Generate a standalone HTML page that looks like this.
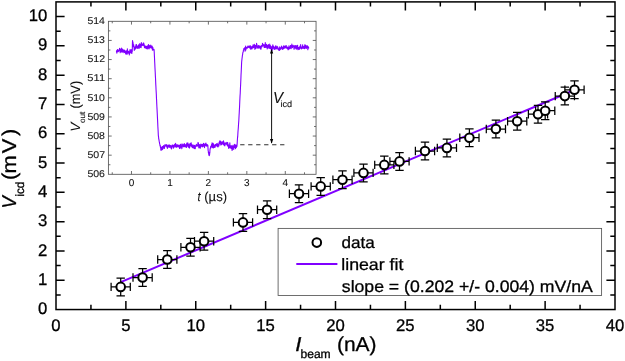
<!DOCTYPE html>
<html><head><meta charset="utf-8"><title>plot</title>
<style>html,body{margin:0;padding:0;background:#fff}svg{display:block;font-family:"Liberation Sans",sans-serif}text{stroke:#000;stroke-width:.3px}.in text{stroke-width:.08px;fill:#111}</style></head>
<body>
<svg width="625" height="361" viewBox="0 0 625 361" font-family="Liberation Sans, sans-serif" fill="#000" text-rendering="geometricPrecision">
<rect width="625" height="361" fill="#fff"/>
<rect x="56.0" y="1.9" width="559.0" height="307.65000000000003" fill="none" stroke="#000" stroke-width="1.5"/>
<path d="M90.94 309.55v-4.7M90.94 1.9v4.7M125.88 309.55v-8.6M125.88 1.9v8.6M160.81 309.55v-4.7M160.81 1.9v4.7M195.75 309.55v-8.6M195.75 1.9v8.6M230.69 309.55v-4.7M230.69 1.9v4.7M265.62 309.55v-8.6M265.62 1.9v8.6M300.56 309.55v-4.7M300.56 1.9v4.7M335.50 309.55v-8.6M335.50 1.9v8.6M370.44 309.55v-4.7M370.44 1.9v4.7M405.38 309.55v-8.6M405.38 1.9v8.6M440.31 309.55v-4.7M440.31 1.9v4.7M475.25 309.55v-8.6M475.25 1.9v8.6M510.19 309.55v-4.7M510.19 1.9v4.7M545.12 309.55v-8.6M545.12 1.9v8.6M580.06 309.55v-4.7M580.06 1.9v4.7M56.0 294.90h4.7M615.0 294.90h-4.7M56.0 280.25h8.6M615.0 280.25h-8.6M56.0 265.60h4.7M615.0 265.60h-4.7M56.0 250.95h8.6M615.0 250.95h-8.6M56.0 236.30h4.7M615.0 236.30h-4.7M56.0 221.65h8.6M615.0 221.65h-8.6M56.0 207.00h4.7M615.0 207.00h-4.7M56.0 192.35h8.6M615.0 192.35h-8.6M56.0 177.70h4.7M615.0 177.70h-4.7M56.0 163.05h8.6M615.0 163.05h-8.6M56.0 148.40h4.7M615.0 148.40h-4.7M56.0 133.75h8.6M615.0 133.75h-8.6M56.0 119.10h4.7M615.0 119.10h-4.7M56.0 104.45h8.6M615.0 104.45h-8.6M56.0 89.80h4.7M615.0 89.80h-4.7M56.0 75.15h8.6M615.0 75.15h-8.6M56.0 60.50h4.7M615.0 60.50h-4.7M56.0 45.85h8.6M615.0 45.85h-8.6M56.0 31.20h4.7M615.0 31.20h-4.7M56.0 16.55h8.6M615.0 16.55h-8.6" stroke="#000" stroke-width="1.5" fill="none"/>
<text x="47.3" y="314.15" font-size="16.7" text-anchor="end">0</text>
<text x="47.3" y="284.85" font-size="16.7" text-anchor="end">1</text>
<text x="47.3" y="255.55" font-size="16.7" text-anchor="end">2</text>
<text x="47.3" y="226.25" font-size="16.7" text-anchor="end">3</text>
<text x="47.3" y="196.95" font-size="16.7" text-anchor="end">4</text>
<text x="47.3" y="167.65" font-size="16.7" text-anchor="end">5</text>
<text x="47.3" y="138.35" font-size="16.7" text-anchor="end">6</text>
<text x="47.3" y="109.05" font-size="16.7" text-anchor="end">7</text>
<text x="47.3" y="79.75" font-size="16.7" text-anchor="end">8</text>
<text x="47.3" y="50.45" font-size="16.7" text-anchor="end">9</text>
<text x="47.3" y="21.15" font-size="16.7" text-anchor="end">10</text>
<text x="56.00" y="331.25" font-size="16.7" text-anchor="middle">0</text>
<text x="125.88" y="331.25" font-size="16.7" text-anchor="middle">5</text>
<text x="195.75" y="331.25" font-size="16.7" text-anchor="middle">10</text>
<text x="265.62" y="331.25" font-size="16.7" text-anchor="middle">15</text>
<text x="335.50" y="331.25" font-size="16.7" text-anchor="middle">20</text>
<text x="405.38" y="331.25" font-size="16.7" text-anchor="middle">25</text>
<text x="475.25" y="331.25" font-size="16.7" text-anchor="middle">30</text>
<text x="545.12" y="331.25" font-size="16.7" text-anchor="middle">35</text>
<text x="615.00" y="331.25" font-size="16.7" text-anchor="middle">40</text>
<text transform="translate(16.0,208.56) rotate(-90) scale(0.9167,1)" font-size="20" font-style="italic">V</text>
<text transform="translate(24.0,196.55) rotate(-90) scale(0.9638,1)" font-size="12">icd</text>
<text transform="translate(16.0,178.5) rotate(-90) scale(1.0909,1)" font-size="20" x="-1.45 4.60 23.19 39.03">(mV)</text>
<text transform="translate(295.37,350.8) scale(1.1087,1)" font-size="20" font-style="italic">I</text>
<text transform="translate(300.44,358.3) scale(1.0081,1)" font-size="12">beam</text>
<text transform="translate(336.94,350.75) scale(1.0481,1)" font-size="20">(nA)</text>
<line x1="120.7" y1="282.15" x2="574.5" y2="89.96" stroke="#8000ff" stroke-width="2"/>
<path d="M111.10 286.90h19.20M111.10 282.70v8.4M130.30 282.70v8.4M120.70 278.04v17.72M116.50 278.04h8.4M116.50 295.76h8.4M133.00 277.50h19.20M133.00 273.30v8.4M152.20 273.30v8.4M142.60 268.64v17.72M138.40 268.64h8.4M138.40 286.36h8.4M157.70 259.50h19.20M157.70 255.30v8.4M176.90 255.30v8.4M167.30 250.64v17.72M163.10 250.64h8.4M163.10 268.36h8.4M180.90 247.30h19.20M180.90 243.10v8.4M200.10 243.10v8.4M190.50 238.44v17.72M186.30 238.44h8.4M186.30 256.16h8.4M194.50 241.20h19.20M194.50 237.00v8.4M213.70 237.00v8.4M204.10 232.34v17.72M199.90 232.34h8.4M199.90 250.06h8.4M233.40 222.40h19.20M233.40 218.20v8.4M252.60 218.20v8.4M243.00 213.54v17.72M238.80 213.54h8.4M238.80 231.26h8.4M257.50 209.70h19.20M257.50 205.50v8.4M276.70 205.50v8.4M267.10 200.84v17.72M262.90 200.84h8.4M262.90 218.56h8.4M289.40 193.70h19.20M289.40 189.50v8.4M308.60 189.50v8.4M299.00 184.84v17.72M294.80 184.84h8.4M294.80 202.56h8.4M311.10 186.40h19.20M311.10 182.20v8.4M330.30 182.20v8.4M320.70 177.54v17.72M316.50 177.54h8.4M316.50 195.26h8.4M332.90 179.70h19.20M332.90 175.50v8.4M352.10 175.50v8.4M342.50 170.84v17.72M338.30 170.84h8.4M338.30 188.56h8.4M353.90 172.90h19.20M353.90 168.70v8.4M373.10 168.70v8.4M363.50 164.04v17.72M359.30 164.04h8.4M359.30 181.76h8.4M374.70 164.90h19.20M374.70 160.70v8.4M393.90 160.70v8.4M384.30 156.04v17.72M380.10 156.04h8.4M380.10 173.76h8.4M389.90 161.40h19.20M389.90 157.20v8.4M409.10 157.20v8.4M399.50 152.54v17.72M395.30 152.54h8.4M395.30 170.26h8.4M415.40 151.00h19.20M415.40 146.80v8.4M434.60 146.80v8.4M425.00 142.14v17.72M420.80 142.14h8.4M420.80 159.86h8.4M437.30 147.90h19.20M437.30 143.70v8.4M456.50 143.70v8.4M446.90 139.04v17.72M442.70 139.04h8.4M442.70 156.76h8.4M459.80 137.70h19.20M459.80 133.50v8.4M479.00 133.50v8.4M469.40 128.84v17.72M465.20 128.84h8.4M465.20 146.56h8.4M486.30 129.00h19.20M486.30 124.80v8.4M505.50 124.80v8.4M495.90 120.14v17.72M491.70 120.14h8.4M491.70 137.86h8.4M507.60 121.20h19.20M507.60 117.00v8.4M526.80 117.00v8.4M517.20 112.34v17.72M513.00 112.34h8.4M513.00 130.06h8.4M528.40 114.20h19.20M528.40 110.00v8.4M547.60 110.00v8.4M538.00 105.34v17.72M533.80 105.34h8.4M533.80 123.06h8.4M535.60 110.70h19.20M535.60 106.50v8.4M554.80 106.50v8.4M545.20 101.84v17.72M541.00 101.84h8.4M541.00 119.56h8.4M555.25 96.10h19.20M555.25 91.90v8.4M574.45 91.90v8.4M564.85 87.24v17.72M560.65 87.24h8.4M560.65 104.96h8.4M564.90 89.80h19.20M564.90 85.60v8.4M584.10 85.60v8.4M574.50 80.94v17.72M570.30 80.94h8.4M570.30 98.66h8.4" stroke="#000" stroke-width="1.25" fill="none"/>
<circle cx="120.70" cy="286.90" r="4.3" fill="#fff" stroke="#000" stroke-width="2"/>
<circle cx="142.60" cy="277.50" r="4.3" fill="#fff" stroke="#000" stroke-width="2"/>
<circle cx="167.30" cy="259.50" r="4.3" fill="#fff" stroke="#000" stroke-width="2"/>
<circle cx="190.50" cy="247.30" r="4.3" fill="#fff" stroke="#000" stroke-width="2"/>
<circle cx="204.10" cy="241.20" r="4.3" fill="#fff" stroke="#000" stroke-width="2"/>
<circle cx="243.00" cy="222.40" r="4.3" fill="#fff" stroke="#000" stroke-width="2"/>
<circle cx="267.10" cy="209.70" r="4.3" fill="#fff" stroke="#000" stroke-width="2"/>
<circle cx="299.00" cy="193.70" r="4.3" fill="#fff" stroke="#000" stroke-width="2"/>
<circle cx="320.70" cy="186.40" r="4.3" fill="#fff" stroke="#000" stroke-width="2"/>
<circle cx="342.50" cy="179.70" r="4.3" fill="#fff" stroke="#000" stroke-width="2"/>
<circle cx="363.50" cy="172.90" r="4.3" fill="#fff" stroke="#000" stroke-width="2"/>
<circle cx="384.30" cy="164.90" r="4.3" fill="#fff" stroke="#000" stroke-width="2"/>
<circle cx="399.50" cy="161.40" r="4.3" fill="#fff" stroke="#000" stroke-width="2"/>
<circle cx="425.00" cy="151.00" r="4.3" fill="#fff" stroke="#000" stroke-width="2"/>
<circle cx="446.90" cy="147.90" r="4.3" fill="#fff" stroke="#000" stroke-width="2"/>
<circle cx="469.40" cy="137.70" r="4.3" fill="#fff" stroke="#000" stroke-width="2"/>
<circle cx="495.90" cy="129.00" r="4.3" fill="#fff" stroke="#000" stroke-width="2"/>
<circle cx="517.20" cy="121.20" r="4.3" fill="#fff" stroke="#000" stroke-width="2"/>
<circle cx="538.00" cy="114.20" r="4.3" fill="#fff" stroke="#000" stroke-width="2"/>
<circle cx="545.20" cy="110.70" r="4.3" fill="#fff" stroke="#000" stroke-width="2"/>
<circle cx="564.85" cy="96.10" r="4.3" fill="#fff" stroke="#000" stroke-width="2"/>
<circle cx="574.50" cy="89.80" r="4.3" fill="#fff" stroke="#000" stroke-width="2"/>
<rect x="278.1" y="228.4" width="323.5" height="67.1" fill="#fff" stroke="#555" stroke-width="0.85"/>
<circle cx="316.8" cy="242.6" r="4.3" fill="#fff" stroke="#000" stroke-width="2"/>
<line x1="296.3" y1="264.1" x2="337.4" y2="264.1" stroke="#8000ff" stroke-width="2"/>
<text transform="translate(341.52,248.3) scale(1.0342,1)" font-size="16.5">data</text>
<text transform="translate(341.25,270.0) scale(1.0753,1)" font-size="16.5">linear fit</text>
<text transform="translate(341.82,291.5) scale(1.0687,1)" font-size="16.5">slope = (0.202 +/- 0.004) mV/nA</text>
<rect x="108.4" y="21.3" width="207.65" height="153.0" fill="#fff" stroke="#555" stroke-width="0.85"/>
<path d="M112.25 174.3v-2.0M112.25 21.3v2.0M131.47 174.3v-3.3M131.47 21.3v3.3M150.70 174.3v-2.0M150.70 21.3v2.0M169.93 174.3v-3.3M169.93 21.3v3.3M189.15 174.3v-2.0M189.15 21.3v2.0M208.38 174.3v-3.3M208.38 21.3v3.3M227.61 174.3v-2.0M227.61 21.3v2.0M246.83 174.3v-3.3M246.83 21.3v3.3M266.06 174.3v-2.0M266.06 21.3v2.0M285.29 174.3v-3.3M285.29 21.3v3.3M304.51 174.3v-2.0M304.51 21.3v2.0M108.4 164.74h2.0M316.05 164.74h-2.0M108.4 155.18h3.3M316.05 155.18h-3.3M108.4 145.61h2.0M316.05 145.61h-2.0M108.4 136.05h3.3M316.05 136.05h-3.3M108.4 126.49h2.0M316.05 126.49h-2.0M108.4 116.93h3.3M316.05 116.93h-3.3M108.4 107.36h2.0M316.05 107.36h-2.0M108.4 97.80h3.3M316.05 97.80h-3.3M108.4 88.24h2.0M316.05 88.24h-2.0M108.4 78.68h3.3M316.05 78.68h-3.3M108.4 69.11h2.0M316.05 69.11h-2.0M108.4 59.55h3.3M316.05 59.55h-3.3M108.4 49.99h2.0M316.05 49.99h-2.0M108.4 40.43h3.3M316.05 40.43h-3.3M108.4 30.86h2.0M316.05 30.86h-2.0" stroke="#555" stroke-width="0.85" fill="none"/>
<g class="in">
<text transform="translate(87.38,177.0) scale(1.0751,1)" font-size="9.8">506</text>
<text transform="translate(87.38,157.88) scale(1.0785,1)" font-size="9.8">507</text>
<text transform="translate(87.38,138.75) scale(1.0734,1)" font-size="9.8">508</text>
<text transform="translate(87.38,119.63) scale(1.0768,1)" font-size="9.8">509</text>
<text transform="translate(87.38,100.5) scale(1.0717,1)" font-size="9.8">510</text>
<text transform="translate(87.36,81.38) scale(1.1323,1)" font-size="9.8">511</text>
<text transform="translate(87.38,62.25) scale(1.0785,1)" font-size="9.8">512</text>
<text transform="translate(87.38,43.13) scale(1.0751,1)" font-size="9.8">513</text>
<text transform="translate(87.38,24.0) scale(1.0651,1)" font-size="9.8">514</text>
<text x="131.47" y="186.2" font-size="10" text-anchor="middle">0</text>
<text x="169.93" y="186.2" font-size="10" text-anchor="middle">1</text>
<text x="208.38" y="186.2" font-size="10" text-anchor="middle">2</text>
<text x="246.83" y="186.2" font-size="10" text-anchor="middle">3</text>
<text x="285.29" y="186.2" font-size="10" text-anchor="middle">4</text>
<text transform="translate(79.5,131.67) rotate(-90) scale(1.0289,1)" font-size="13.4" font-style="italic">V</text>
<text transform="translate(84.7,123.03) rotate(-90) scale(1.0223,1)" font-size="8">out</text>
<text transform="translate(79.5,108.57) rotate(-90) scale(0.9561,1)" font-size="13.4">(mV)</text>
<text transform="translate(197.40,200.5) scale(0.8496,1)" font-size="13.2" font-style="italic">t</text>
<text transform="translate(204.21,200.5) scale(0.9945,1)" font-size="13.2">(µs)</text>
</g>
<path d="M116.30 51.82 116.44 51.61 116.58 50.69 116.72 52.69 116.86 53.17 117.00 52.56 117.14 50.20 117.28 51.85 117.42 49.47 117.56 49.59 117.70 50.91 117.84 51.36 117.98 51.33 118.12 50.51 118.26 51.66 118.40 50.41 118.54 50.28 118.68 51.30 118.82 50.14 118.96 49.95 119.10 49.56 119.24 50.51 119.38 50.75 119.52 48.42 119.66 49.69 119.80 50.80 119.94 49.16 120.08 51.17 120.22 52.64 120.36 51.35 120.50 51.49 120.64 50.17 120.78 49.21 120.92 51.08 121.06 48.85 121.20 51.53 121.34 48.16 121.48 49.72 121.62 48.87 121.76 51.09 121.90 50.95 122.04 52.52 122.18 51.88 122.32 49.62 122.46 51.73 122.60 48.97 122.74 50.91 122.88 50.70 123.02 49.65 123.16 51.24 123.30 51.59 123.44 51.64 123.58 50.61 123.72 52.18 123.86 50.70 124.00 52.66 124.14 50.09 124.28 50.60 124.42 52.26 124.56 52.40 124.70 50.41 124.84 52.04 124.98 51.64 125.12 51.46 125.26 51.10 125.40 51.83 125.54 52.41 125.68 54.01 125.82 51.75 125.96 51.76 126.10 51.45 126.24 53.24 126.38 50.78 126.52 51.79 126.66 51.34 126.80 51.88 126.94 54.56 127.08 52.07 127.22 51.72 127.36 48.82 127.50 51.90 127.64 51.97 127.78 53.29 127.92 50.73 128.06 51.61 128.20 52.82 128.34 53.05 128.48 52.47 128.62 52.09 128.76 51.58 128.90 52.48 129.04 52.07 129.18 53.02 129.32 54.94 129.46 53.52 129.60 52.38 129.74 52.21 129.88 49.87 130.02 51.42 130.16 49.85 130.30 52.16 130.44 52.84 130.58 51.27 130.72 52.06 130.86 50.68 131.00 52.18 131.14 49.65 131.28 50.72 131.42 51.68 131.56 52.92 131.70 53.24 131.84 53.52 131.98 51.38 132.12 51.60 132.26 51.39 132.40 43.83 132.54 40.47 132.68 41.94 132.82 41.80 132.96 42.37 133.10 43.53 133.24 46.58 133.38 45.91 133.52 44.72 133.66 44.58 133.80 45.48 133.94 47.10 134.08 47.41 134.22 50.34 134.36 50.24 134.50 49.31 134.64 48.69 134.78 47.02 134.92 49.53 135.06 49.19 135.20 48.87 135.34 46.73 135.48 48.66 135.62 47.04 135.76 45.81 135.90 45.84 136.04 44.52 136.18 45.53 136.32 47.35 136.46 44.43 136.60 46.25 136.74 47.48 136.88 47.69 137.02 48.54 137.16 47.31 137.30 47.79 137.44 46.39 137.58 48.06 137.72 47.50 137.86 45.72 138.00 48.15 138.14 47.54 138.28 45.60 138.42 46.43 138.56 46.15 138.70 44.86 138.84 46.54 138.98 44.88 139.12 48.51 139.26 46.73 139.40 46.43 139.54 47.53 139.68 45.99 139.82 43.60 139.96 45.13 140.10 47.06 140.24 44.34 140.38 45.42 140.52 44.74 140.66 47.54 140.80 44.35 140.94 46.83 141.08 47.77 141.22 45.04 141.36 42.58 141.50 44.27 141.64 43.94 141.78 45.19 141.92 45.73 142.06 44.93 142.20 44.83 142.34 44.07 142.48 44.46 142.62 44.76 142.76 44.47 142.90 45.33 143.04 45.52 143.18 45.45 143.32 42.97 143.46 43.47 143.60 42.91 143.74 43.34 143.88 43.86 144.02 43.85 144.16 45.28 144.30 46.98 144.44 45.95 144.58 47.67 144.72 47.24 144.86 46.08 145.00 45.76 145.14 46.79 145.28 46.67 145.42 48.02 145.56 47.69 145.70 47.09 145.84 48.29 145.98 46.30 146.12 47.58 146.26 48.34 146.40 48.74 146.54 48.11 146.68 47.54 146.82 46.30 146.96 46.83 147.10 46.21 147.24 46.03 147.38 47.33 147.52 46.59 147.66 48.88 147.80 48.59 147.94 46.83 148.08 47.74 148.22 45.05 148.36 46.74 148.50 44.51 148.64 45.03 148.78 46.14 148.92 47.35 149.06 48.93 149.20 46.20 149.34 45.54 149.48 46.56 149.62 47.25 149.76 45.75 149.90 46.46 150.04 46.77 150.18 47.89 150.32 47.26 150.46 46.55 150.60 45.72 150.74 45.02 150.88 46.42 151.02 46.52 151.16 47.56 151.30 47.20 151.44 47.10 151.58 48.18 151.72 46.68 151.86 46.64 152.00 45.93 152.14 46.51 152.28 47.79 152.42 50.20 152.56 49.70 152.70 49.16 152.84 47.24 152.98 48.69 153.12 48.98 153.26 49.71 153.40 49.59 153.54 49.46 153.68 50.13 153.82 49.91 153.96 49.28 154.10 49.86 154.24 52.19 154.38 55.39 154.52 57.98 154.66 61.52 154.80 64.08 154.94 67.19 155.08 69.85 155.22 72.24 155.36 75.61 155.50 78.00 155.64 80.91 155.78 84.36 155.92 86.82 156.06 89.72 156.20 92.33 156.34 94.84 156.48 98.49 156.62 100.55 156.76 104.04 156.90 106.66 157.04 109.35 157.18 112.14 157.32 114.99 157.46 118.00 157.60 120.46 157.74 123.42 157.88 126.68 158.02 129.20 158.16 131.79 158.30 135.01 158.44 136.32 158.58 136.94 158.72 138.85 158.86 139.07 159.00 140.08 159.14 140.96 159.28 142.05 159.42 142.35 159.56 143.51 159.70 143.87 159.84 144.49 159.98 145.51 160.12 146.09 160.26 145.18 160.40 147.03 160.54 147.52 160.68 147.25 160.82 150.03 160.96 149.03 161.10 150.40 161.24 150.01 161.38 149.01 161.52 147.13 161.66 149.13 161.80 149.72 161.94 149.74 162.08 147.44 162.22 149.77 162.36 147.35 162.50 146.45 162.64 149.33 162.78 148.90 162.92 147.51 163.06 148.26 163.20 146.38 163.34 147.25 163.48 145.56 163.62 145.98 163.76 146.49 163.90 146.55 164.04 148.29 164.18 148.04 164.32 147.27 164.46 148.45 164.60 147.07 164.74 145.03 164.88 145.35 165.02 144.48 165.16 145.65 165.30 145.48 165.44 145.51 165.58 146.04 165.72 145.00 165.86 146.31 166.00 145.96 166.14 146.27 166.28 145.64 166.42 145.34 166.56 146.33 166.70 144.57 166.84 146.36 166.98 147.38 167.12 147.07 167.26 147.79 167.40 148.51 167.54 145.85 167.68 146.52 167.82 147.32 167.96 146.34 168.10 145.34 168.24 145.09 168.38 145.72 168.52 145.85 168.66 146.52 168.80 146.88 168.94 145.29 169.08 146.28 169.22 147.38 169.36 145.08 169.50 146.53 169.64 146.70 169.78 145.00 169.92 146.07 170.06 146.74 170.20 147.19 170.34 146.12 170.48 145.64 170.62 147.31 170.76 146.54 170.90 146.11 171.04 148.12 171.18 148.06 171.32 146.93 171.46 146.71 171.60 148.92 171.74 146.44 171.88 145.22 172.02 146.53 172.16 146.57 172.30 146.62 172.44 145.04 172.58 145.11 172.72 145.54 172.86 146.52 173.00 146.19 173.14 147.47 173.28 145.55 173.42 148.23 173.56 146.75 173.70 147.51 173.84 146.10 173.98 146.36 174.12 144.83 174.26 145.21 174.40 145.12 174.54 145.78 174.68 144.49 174.82 144.94 174.96 145.36 175.10 147.09 175.24 145.25 175.38 143.24 175.52 144.42 175.66 145.87 175.80 146.32 175.94 144.00 176.08 146.23 176.22 146.66 176.36 146.50 176.50 147.31 176.64 147.01 176.78 146.64 176.92 146.03 177.06 146.31 177.20 144.50 177.34 145.68 177.48 146.34 177.62 146.25 177.76 145.63 177.90 146.88 178.04 145.85 178.18 145.72 178.32 146.06 178.46 146.35 178.60 145.02 178.74 145.28 178.88 146.83 179.02 145.65 179.16 145.50 179.30 145.93 179.44 145.92 179.58 148.46 179.72 146.54 179.86 146.15 180.00 148.54 180.14 145.23 180.28 144.31 180.42 145.21 180.56 147.48 180.70 144.87 180.84 147.16 180.98 145.76 181.12 146.83 181.26 143.99 181.40 146.75 181.54 146.99 181.68 146.53 181.82 148.78 181.96 146.36 182.10 146.88 182.24 147.20 182.38 146.28 182.52 145.80 182.66 144.01 182.80 145.39 182.94 145.94 183.08 144.73 183.22 146.15 183.36 145.16 183.50 146.82 183.64 145.91 183.78 145.86 183.92 144.33 184.06 144.29 184.20 143.86 184.34 143.67 184.48 143.99 184.62 146.74 184.76 145.25 184.90 145.43 185.04 144.82 185.18 144.81 185.32 146.30 185.46 147.01 185.60 145.87 185.74 145.49 185.88 145.16 186.02 145.02 186.16 144.29 186.30 145.70 186.44 147.35 186.58 145.18 186.72 146.54 186.86 143.00 187.00 145.21 187.14 145.51 187.28 146.20 187.42 145.39 187.56 145.81 187.70 145.45 187.84 142.70 187.98 144.76 188.12 144.17 188.26 145.70 188.40 147.26 188.54 144.86 188.68 146.54 188.82 147.18 188.96 145.49 189.10 146.51 189.24 143.72 189.38 148.09 189.52 145.64 189.66 145.82 189.80 147.11 189.94 145.15 190.08 145.07 190.22 145.60 190.36 146.02 190.50 143.37 190.64 143.23 190.78 144.66 190.92 145.77 191.06 144.51 191.20 142.71 191.34 145.19 191.48 145.22 191.62 146.44 191.76 146.72 191.90 146.47 192.04 145.38 192.18 144.67 192.32 147.47 192.46 146.62 192.60 147.75 192.74 147.80 192.88 145.96 193.02 147.67 193.16 145.58 193.30 145.02 193.44 147.16 193.58 146.66 193.72 147.71 193.86 146.09 194.00 148.15 194.14 148.33 194.28 147.50 194.42 147.41 194.56 145.21 194.70 146.26 194.84 146.14 194.98 148.70 195.12 147.24 195.26 148.66 195.40 146.68 195.54 145.91 195.68 145.99 195.82 146.00 195.96 145.29 196.10 144.82 196.24 145.16 196.38 144.35 196.52 145.33 196.66 145.53 196.80 146.38 196.94 146.02 197.08 145.87 197.22 145.25 197.36 145.14 197.50 145.81 197.64 145.97 197.78 144.34 197.92 143.06 198.06 142.43 198.20 143.24 198.34 142.85 198.48 143.43 198.62 145.16 198.76 147.59 198.90 146.32 199.04 148.05 199.18 146.24 199.32 146.32 199.46 145.20 199.60 144.61 199.74 146.58 199.88 144.76 200.02 146.04 200.16 147.77 200.30 148.24 200.44 146.88 200.58 146.12 200.72 146.53 200.86 143.96 201.00 143.95 201.14 145.09 201.28 144.94 201.42 144.64 201.56 145.86 201.70 145.35 201.84 144.94 201.98 146.64 202.12 146.58 202.26 146.89 202.40 144.25 202.54 144.43 202.68 144.59 202.82 145.63 202.96 145.82 203.10 146.33 203.24 145.38 203.38 146.31 203.52 143.35 203.66 145.12 203.80 144.16 203.94 145.22 204.08 145.47 204.22 144.96 204.36 146.61 204.50 147.63 204.64 145.15 204.78 144.24 204.92 143.90 205.06 144.91 205.20 144.98 205.34 145.15 205.48 145.79 205.62 143.54 205.76 144.72 205.90 142.94 206.04 143.95 206.18 143.98 206.32 146.06 206.46 144.20 206.60 145.49 206.74 145.24 206.88 146.11 207.02 146.02 207.16 145.96 207.30 144.62 207.44 145.47 207.58 145.59 207.72 144.94 207.86 145.23 208.00 148.15 208.14 150.77 208.28 150.99 208.42 152.86 208.56 151.96 208.70 153.48 208.84 154.81 208.98 155.21 209.12 154.98 209.26 155.61 209.40 154.24 209.54 155.15 209.68 152.39 209.82 153.14 209.96 149.92 210.10 149.30 210.24 148.29 210.38 147.77 210.52 148.27 210.66 146.54 210.80 146.45 210.94 147.92 211.08 147.35 211.22 146.18 211.36 145.40 211.50 145.19 211.64 144.36 211.78 146.27 211.92 146.04 212.06 142.86 212.20 146.25 212.34 147.19 212.48 147.46 212.62 147.60 212.76 144.61 212.90 143.79 213.04 145.48 213.18 143.38 213.32 145.59 213.46 144.42 213.60 148.07 213.74 146.47 213.88 146.14 214.02 147.21 214.16 144.93 214.30 145.20 214.44 146.26 214.58 147.22 214.72 146.91 214.86 145.69 215.00 147.33 215.14 146.60 215.28 144.44 215.42 145.99 215.56 145.01 215.70 145.96 215.84 144.53 215.98 144.29 216.12 145.08 216.26 145.18 216.40 144.20 216.54 143.85 216.68 146.07 216.82 144.91 216.96 144.44 217.10 143.28 217.24 143.52 217.38 145.93 217.52 146.78 217.66 146.42 217.80 146.35 217.94 144.71 218.08 147.05 218.22 144.41 218.36 144.64 218.50 144.70 218.64 144.09 218.78 145.59 218.92 145.96 219.06 143.04 219.20 142.17 219.34 143.28 219.48 144.06 219.62 141.79 219.76 140.93 219.90 141.85 220.04 143.11 220.18 143.04 220.32 142.83 220.46 142.10 220.60 140.95 220.74 144.91 220.88 142.66 221.02 141.98 221.16 142.31 221.30 143.60 221.44 142.36 221.58 144.65 221.72 142.40 221.86 141.94 222.00 141.90 222.14 143.38 222.28 143.05 222.42 142.56 222.56 142.83 222.70 141.78 222.84 143.86 222.98 143.02 223.12 144.24 223.26 144.59 223.40 143.37 223.54 140.89 223.68 141.77 223.82 142.95 223.96 143.56 224.10 142.60 224.24 145.51 224.38 145.56 224.52 145.58 224.66 145.45 224.80 145.93 224.94 143.49 225.08 145.11 225.22 143.09 225.36 143.03 225.50 143.23 225.64 142.93 225.78 143.56 225.92 144.00 226.06 144.02 226.20 143.15 226.34 144.17 226.48 143.00 226.62 143.40 226.76 143.63 226.90 142.24 227.04 145.08 227.18 145.22 227.32 145.09 227.46 145.64 227.60 145.99 227.74 142.67 227.88 145.24 228.02 144.49 228.16 144.18 228.30 144.82 228.44 146.64 228.58 148.02 228.72 148.41 228.86 146.78 229.00 145.87 229.14 145.65 229.28 147.66 229.42 145.59 229.56 145.51 229.70 144.21 229.84 142.80 229.98 145.32 230.12 145.96 230.26 147.84 230.40 146.96 230.54 146.20 230.68 148.02 230.82 146.98 230.96 146.28 231.10 145.56 231.24 148.33 231.38 147.03 231.52 146.65 231.66 146.13 231.80 149.04 231.94 147.22 232.08 150.47 232.22 147.63 232.36 146.98 232.50 149.42 232.64 147.24 232.78 145.47 232.92 145.96 233.06 145.07 233.20 146.91 233.34 148.06 233.48 146.37 233.62 147.65 233.76 149.35 233.90 148.29 234.04 146.42 234.18 147.59 234.32 145.51 234.46 145.85 234.60 144.27 234.74 146.62 234.88 147.36 235.02 145.43 235.16 145.54 235.30 146.62 235.44 147.01 235.58 148.79 235.72 147.55 235.86 144.88 236.00 147.08 236.14 145.28 236.28 146.51 236.42 147.50 236.56 146.18 236.70 146.36 236.84 146.57 236.98 145.79 237.12 144.09 237.26 141.87 237.40 139.56 237.54 137.72 237.68 136.93 237.82 134.57 237.96 132.04 238.10 130.19 238.24 128.76 238.38 126.70 238.52 124.47 238.66 122.58 238.80 120.71 238.94 118.07 239.08 115.27 239.22 113.11 239.36 110.02 239.50 108.06 239.64 104.84 239.78 101.18 239.92 98.40 240.06 95.52 240.20 93.76 240.34 90.25 240.48 87.17 240.62 84.72 240.76 81.42 240.90 78.37 241.04 74.61 241.18 72.26 241.32 69.24 241.46 66.16 241.60 62.83 241.74 61.05 241.88 59.88 242.02 58.52 242.16 57.56 242.30 56.40 242.44 55.19 242.58 54.85 242.72 53.46 242.86 52.73 243.00 52.17 243.14 52.14 243.28 51.36 243.42 50.31 243.56 50.07 243.70 49.39 243.84 49.05 243.98 48.44 244.12 49.33 244.26 48.25 244.40 48.61 244.54 48.50 244.68 48.77 244.82 47.49 244.96 50.55 245.10 51.29 245.24 48.69 245.38 47.35 245.52 47.85 245.66 46.13 245.80 50.08 245.94 49.49 246.08 48.73 246.22 47.88 246.36 47.96 246.50 47.94 246.64 47.66 246.78 47.96 246.92 48.10 247.06 48.18 247.20 46.97 247.34 48.26 247.48 47.42 247.62 47.82 247.76 46.35 247.90 46.96 248.04 45.69 248.18 46.98 248.32 47.09 248.46 46.66 248.60 46.60 248.74 46.89 248.88 47.55 249.02 46.49 249.16 47.34 249.30 47.10 249.44 47.66 249.58 46.58 249.72 45.85 249.86 47.93 250.00 46.06 250.14 48.20 250.28 48.03 250.42 46.75 250.56 45.89 250.70 49.11 250.84 49.10 250.98 46.50 251.12 46.83 251.26 47.88 251.40 47.72 251.54 47.78 251.68 48.16 251.82 47.39 251.96 48.92 252.10 46.57 252.24 46.83 252.38 48.04 252.52 47.86 252.66 45.97 252.80 46.69 252.94 46.54 253.08 44.91 253.22 47.40 253.36 47.07 253.50 47.80 253.64 46.24 253.78 47.13 253.92 44.98 254.06 46.31 254.20 46.85 254.34 44.27 254.48 46.67 254.62 47.22 254.76 48.01 254.90 49.35 255.04 47.55 255.18 46.10 255.32 46.01 255.46 45.31 255.60 46.89 255.74 48.57 255.88 48.56 256.02 47.61 256.16 46.84 256.30 45.76 256.44 45.53 256.58 43.39 256.72 44.53 256.86 44.37 257.00 46.34 257.14 45.85 257.28 47.44 257.42 48.00 257.56 47.02 257.70 46.16 257.84 47.01 257.98 46.72 258.12 46.81 258.26 48.28 258.40 48.05 258.54 45.67 258.68 47.26 258.82 45.82 258.96 45.60 259.10 46.34 259.24 47.28 259.38 46.31 259.52 48.05 259.66 47.92 259.80 46.09 259.94 46.61 260.08 47.04 260.22 47.82 260.36 48.41 260.50 48.86 260.64 46.36 260.78 47.89 260.92 49.32 261.06 48.69 261.20 47.10 261.34 45.62 261.48 47.17 261.62 46.64 261.76 46.55 261.90 46.59 262.04 46.79 262.18 46.46 262.32 46.20 262.46 43.28 262.60 44.14 262.74 45.57 262.88 44.75 263.02 44.34 263.16 45.09 263.30 44.65 263.44 44.99 263.58 45.93 263.72 44.70 263.86 46.10 264.00 47.22 264.14 46.18 264.28 47.09 264.42 47.41 264.56 47.17 264.70 44.47 264.84 46.13 264.98 45.04 265.12 47.45 265.26 42.61 265.40 43.73 265.54 44.82 265.68 44.98 265.82 44.72 265.96 45.30 266.10 47.15 266.24 45.82 266.38 44.32 266.52 47.16 266.66 45.48 266.80 47.39 266.94 44.92 267.08 46.81 267.22 48.87 267.36 46.94 267.50 48.04 267.64 48.01 267.78 47.53 267.92 47.24 268.06 45.35 268.20 46.55 268.34 45.45 268.48 44.66 268.62 46.17 268.76 45.44 268.90 46.53 269.04 48.32 269.18 48.52 269.32 47.42 269.46 46.13 269.60 47.31 269.74 43.93 269.88 45.58 270.02 47.70 270.16 47.82 270.30 48.51 270.44 46.11 270.58 45.72 270.72 47.42 270.86 47.76 271.00 47.45 271.14 48.26 271.28 50.27 271.42 47.93 271.56 47.22 271.70 50.38 271.84 46.47 271.98 46.53 272.12 47.95 272.26 50.10 272.40 48.27 272.54 48.70 272.68 45.92 272.82 44.72 272.96 47.26 273.10 47.58 273.24 47.40 273.38 46.08 273.52 47.72 273.66 47.74 273.80 48.97 273.94 47.85 274.08 46.87 274.22 47.31 274.36 49.44 274.50 48.09 274.64 48.55 274.78 48.32 274.92 47.46 275.06 48.92 275.20 49.06 275.34 48.47 275.48 46.14 275.62 47.39 275.76 46.71 275.90 45.78 276.04 48.48 276.18 47.59 276.32 47.54 276.46 47.63 276.60 48.93 276.74 47.71 276.88 47.15 277.02 47.90 277.16 46.35 277.30 47.34 277.44 46.73 277.58 46.71 277.72 47.26 277.86 49.04 278.00 48.03 278.14 49.55 278.28 48.15 278.42 48.39 278.56 48.34 278.70 49.97 278.84 49.07 278.98 50.30 279.12 50.43 279.26 49.61 279.40 50.38 279.54 48.23 279.68 46.92 279.82 47.41 279.96 48.28 280.10 47.42 280.24 49.77 280.38 48.06 280.52 48.13 280.66 48.34 280.80 47.81 280.94 48.89 281.08 47.72 281.22 48.38 281.36 47.56 281.50 46.14 281.64 47.19 281.78 48.20 281.92 47.64 282.06 48.23 282.20 48.39 282.34 49.36 282.48 49.11 282.62 48.18 282.76 47.34 282.90 47.10 283.04 47.18 283.18 48.29 283.32 48.95 283.46 47.15 283.60 45.91 283.74 48.16 283.88 46.14 284.02 47.17 284.16 46.96 284.30 45.97 284.44 46.56 284.58 48.25 284.72 46.41 284.86 47.72 285.00 46.58 285.14 46.73 285.28 46.24 285.42 46.85 285.56 45.72 285.70 47.45 285.84 46.75 285.98 48.19 286.12 46.95 286.26 45.58 286.40 47.99 286.54 46.68 286.68 47.12 286.82 47.95 286.96 47.08 287.10 48.14 287.24 48.43 287.38 47.35 287.52 47.13 287.66 47.18 287.80 47.71 287.94 49.48 288.08 49.82 288.22 49.69 288.36 49.35 288.50 47.56 288.64 47.47 288.78 48.78 288.92 45.68 289.06 46.02 289.20 46.76 289.34 48.84 289.48 47.91 289.62 48.05 289.76 48.41 289.90 48.47 290.04 48.02 290.18 46.90 290.32 47.14 290.46 46.07 290.60 45.50 290.74 46.72 290.88 45.50 291.02 47.03 291.16 48.78 291.30 45.93 291.44 47.04 291.58 46.39 291.72 46.26 291.86 43.98 292.00 46.26 292.14 46.06 292.28 46.63 292.42 47.66 292.56 46.98 292.70 46.56 292.84 45.53 292.98 45.94 293.12 45.27 293.26 46.71 293.40 46.51 293.54 45.72 293.68 46.69 293.82 46.46 293.96 49.17 294.10 49.21 294.24 48.82 294.38 47.34 294.52 45.88 294.66 46.06 294.80 47.61 294.94 46.23 295.08 45.52 295.22 47.20 295.36 46.29 295.50 48.15 295.64 46.47 295.78 45.86 295.92 45.71 296.06 47.31 296.20 48.15 296.34 49.31 296.48 47.98 296.62 46.70 296.76 45.76 296.90 47.32 297.04 48.64 297.18 47.53 297.32 47.25 297.46 45.60 297.60 45.32 297.74 46.82 297.88 49.01 298.02 49.78 298.16 47.82 298.30 49.01 298.44 47.98 298.58 47.60 298.72 47.72 298.86 49.08 299.00 48.38 299.14 47.37 299.28 48.42 299.42 48.41 299.56 49.23 299.70 48.81 299.84 46.97 299.98 46.12 300.12 47.74 300.26 46.72 300.40 46.68 300.54 46.32 300.68 44.65 300.82 48.29 300.96 46.88 301.10 47.52 301.24 47.77 301.38 47.37 301.52 48.83 301.66 48.47 301.80 47.59 301.94 47.26 302.08 48.35 302.22 46.67 302.36 47.18 302.50 46.92 302.64 44.91 302.78 46.58 302.92 48.19 303.06 47.05 303.20 46.61 303.34 47.56 303.48 48.14 303.62 48.29 303.76 48.35 303.90 47.42 304.04 48.08 304.18 46.35 304.32 46.54 304.46 48.78 304.60 47.90 304.74 44.74 304.88 47.46 305.02 47.09 305.16 47.46 305.30 47.81 305.44 45.10 305.58 47.28 305.72 45.74 305.86 48.12 306.00 46.33 306.14 46.45 306.28 47.26 306.42 48.45 306.56 47.02 306.70 46.78 306.84 46.08 306.98 45.47 307.12 47.39 307.26 46.12 307.40 45.99 307.54 47.15 307.68 47.15 307.82 49.69 307.96 47.12 308.10 46.53 308.24 47.47 308.38 47.38 308.52 47.12 308.66 48.18 308.80 48.74" stroke="#8000ff" stroke-width="1.1" fill="none" stroke-linejoin="round"/>
<line x1="240.2" y1="144.75" x2="284.4" y2="144.75" stroke="#222" stroke-width="0.95" stroke-dasharray="4.3 3.68"/>
<line x1="271.6" y1="50" x2="271.6" y2="143" stroke="#111" stroke-width="1"/>
<path d="M271.6 48.8l-1.6 4.8h3.2zM271.6 143.8l-1.6 -4.8h3.2z" fill="#000"/>
<g class="in"><text transform="translate(273.12,102.6) scale(0.9375,1)" font-size="16" font-style="italic">V</text>
<text transform="translate(280.41,106.7) scale(1.0145,1)" font-size="9">icd</text></g>
</svg>
</body></html>
